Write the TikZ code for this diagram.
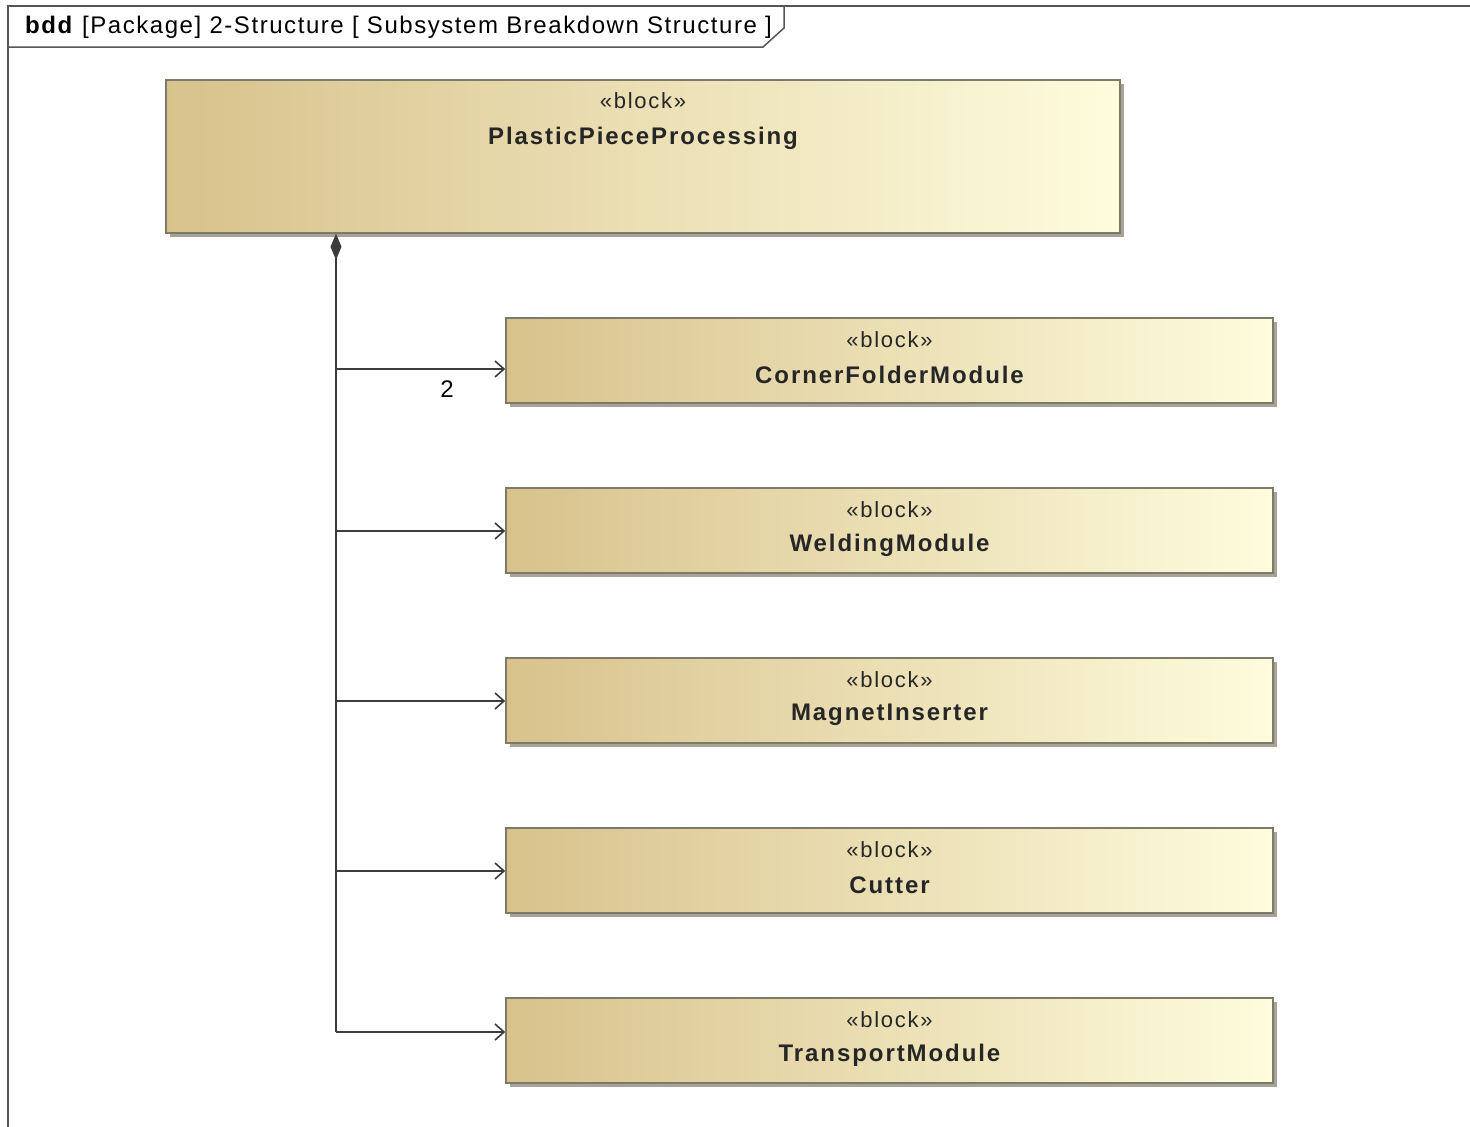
\documentclass[tikz,border=0pt]{standalone}
\usepackage{fontspec}
\setmainfont{Liberation Sans}
\usetikzlibrary{arrows.meta,shadows}

\definecolor{tanL}{HTML}{D8C28C}
\definecolor{tanR}{HTML}{FEFCDD}
\definecolor{edgec}{HTML}{7E7A68}
\definecolor{shade}{HTML}{A7A398}
\definecolor{linec}{HTML}{3C3C3C}
\definecolor{framec}{HTML}{555555}

\tikzset{
  blk/.style={rectangle, draw=edgec, line width=1.6pt, left color=tanL, right color=tanR,
    inner sep=0pt, drop shadow={shadow xshift=4pt, shadow yshift=-4pt, fill=shade, opacity=1}},
  stereo/.style={font=\fontsize{22}{26}\selectfont\addfontfeatures{LetterSpace=8}, text=black!85, inner sep=0pt},
  bname/.style={font=\fontsize{24}{28}\selectfont\bfseries\addfontfeatures{LetterSpace=8}, text=black!85, inner sep=0pt},
  conn/.style={draw=linec, line width=1.8pt},
  part/.style={conn, -{Straight Barb[length=9pt,width=16pt,line width=1.6pt]}},
  comp/.style={conn, {Diamond[length=26pt,width=11pt,fill=linec]}-},
  mult/.style={font=\fontsize{24}{28}\selectfont, inner sep=0pt}
}

\begin{document}
\begin{tikzpicture}[x=1pt,y=-1pt]
\useasboundingbox (0,0) rectangle (1470,1127);
\fill[white] (0,0) rectangle (1470,1127);

% diagram frame and name tab
\begin{scope}
\clip (0,0) rectangle (1470,1127);
\draw[framec, line width=2pt] (8,1140) -- (8,6) -- (1480,6);
\draw[framec, line width=1.5pt] (8,47) -- (763,47) -- (784,28) -- (784,6);
\end{scope}
\node[anchor=west, inner sep=0pt, font=\fontsize{24}{28}\selectfont\addfontfeatures{LetterSpace=6.5}] (hdr) at (25,27)
  {\textbf{bdd} [Package] 2-Structure [ Subsystem Breakdown Structure ]};

% whole system block
\node[blk, minimum width=954pt, minimum height=153pt] (ppp) at (643,156.5) {};
\node[stereo] (ppps) at ([yshift=-21.5pt]ppp.north) {«block»};
\node[bname] (pppn) at ([yshift=-59pt]ppp.north) {PlasticPieceProcessing};

% subsystem blocks
\foreach \nm/\lbl/\yc in {cfm/CornerFolderModule/360.5, wm/WeldingModule/530.5,
    mi/MagnetInserter/700.5, cut/Cutter/870.5, tm/TransportModule/1040.5}{
  \node[blk, minimum width=767pt, minimum height=85pt] (\nm) at (889.5,\yc) {};
  \node[stereo] (\nm s) at ([yshift=-22pt]\nm.north) {«block»};
  \node[bname] (\nm n) at ([yshift=-58pt]\nm.north) {\lbl};
}

% composition tree
\coordinate (jn) at (336,1032);
\draw[comp] (ppp.south -| jn) -- (jn);
\draw[part] (jn) -- (jn -| tm.west);
\draw[part] (jn |- 0,369) -- (cfm.west |- 0,369);
\draw[part] (jn |- 0,531) -- (wm.west |- 0,531);
\draw[part] (jn |- 0,701) -- (mi.west |- 0,701);
\draw[part] (jn |- 0,871) -- (cut.west |- 0,871);
\node[mult] (m2) at (447,389) {2};
\end{tikzpicture}
\end{document}
